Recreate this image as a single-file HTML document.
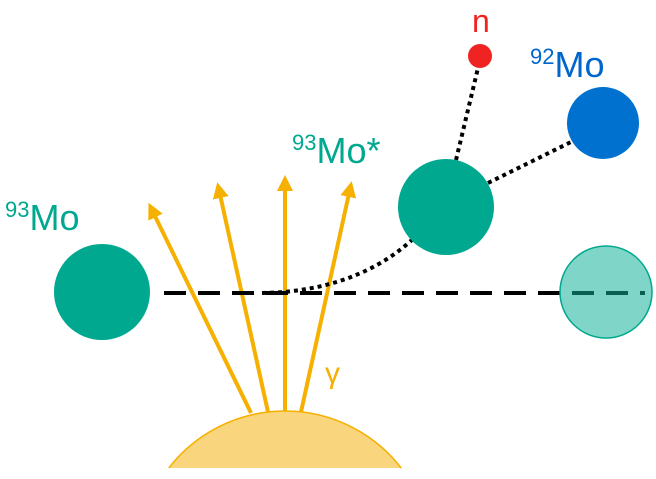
<!DOCTYPE html>
<html><head><meta charset="utf-8"><style>
html,body{margin:0;padding:0;background:#fff;width:656px;height:479px;overflow:hidden;}
svg{display:block;}
text{font-family:"Liberation Sans",sans-serif;}
</style></head><body>
<svg width="656" height="479" viewBox="0 0 656 479" xmlns="http://www.w3.org/2000/svg">
<defs>
<marker id="ah" markerWidth="4" markerHeight="4" refX="2" refY="2" orient="auto" markerUnits="strokeWidth">
<path d="M0,0 L4,2 L0,4 Z" fill="#f5b000"/>
</marker>
<clipPath id="cc"><circle cx="606" cy="292" r="46"/></clipPath>
</defs>
<path d="M168.8,468 A147,147 0 0 1 401.2,468" fill="#f9d57e" stroke="#f5b000" stroke-width="1.5"/>
<g stroke="#f5b000" stroke-width="4" fill="none" marker-end="url(#ah)">
<line x1="251" y1="413" x2="152" y2="210"/>
<line x1="268" y1="412" x2="219" y2="190"/>
<line x1="285" y1="411" x2="285" y2="183"/>
<line x1="301" y1="412" x2="350" y2="189"/>
</g>
<text x="325" y="383" font-size="30" fill="#f5b000" font-family="Liberation Serif,DejaVu Serif,serif">γ</text>
<line x1="164" y1="293" x2="645" y2="293" stroke="#000" stroke-width="4" stroke-dasharray="22 12"/>
<g stroke="#000" stroke-width="4" fill="none" stroke-dasharray="4 4">
<path d="M262,293 C330,292 380,270 414,238"/>
<line x1="488" y1="183" x2="575" y2="140"/>
<line x1="456" y1="160" x2="478" y2="68"/>
</g>
<circle cx="102" cy="292" r="48" fill="#00a88f"/>
<circle cx="446" cy="207" r="48" fill="#00a88f"/>
<circle cx="606" cy="292" r="46" fill="#7fd6c8" stroke="#00a88f" stroke-width="1.5"/>
<line x1="164" y1="293" x2="645" y2="293" stroke="#0b5e52" stroke-width="4" stroke-dasharray="22 12" clip-path="url(#cc)"/>
<circle cx="603" cy="123" r="36" fill="#0071ce"/>
<circle cx="480" cy="56" r="12" fill="#ee2322"/>
<text x="5" y="230" font-size="36" fill="#00a88f"><tspan font-size="22" dy="-13">93</tspan><tspan dy="13">Mo</tspan></text>
<text x="292" y="163" font-size="36" fill="#00a88f"><tspan font-size="22" dy="-13">93</tspan><tspan dy="13">Mo*</tspan></text>
<text x="530" y="77" font-size="36" fill="#0066cc"><tspan font-size="22" dy="-13">92</tspan><tspan dy="13">Mo</tspan></text>
<text x="472" y="32" font-size="32" fill="#ee2322">n</text>
</svg>
</body></html>
